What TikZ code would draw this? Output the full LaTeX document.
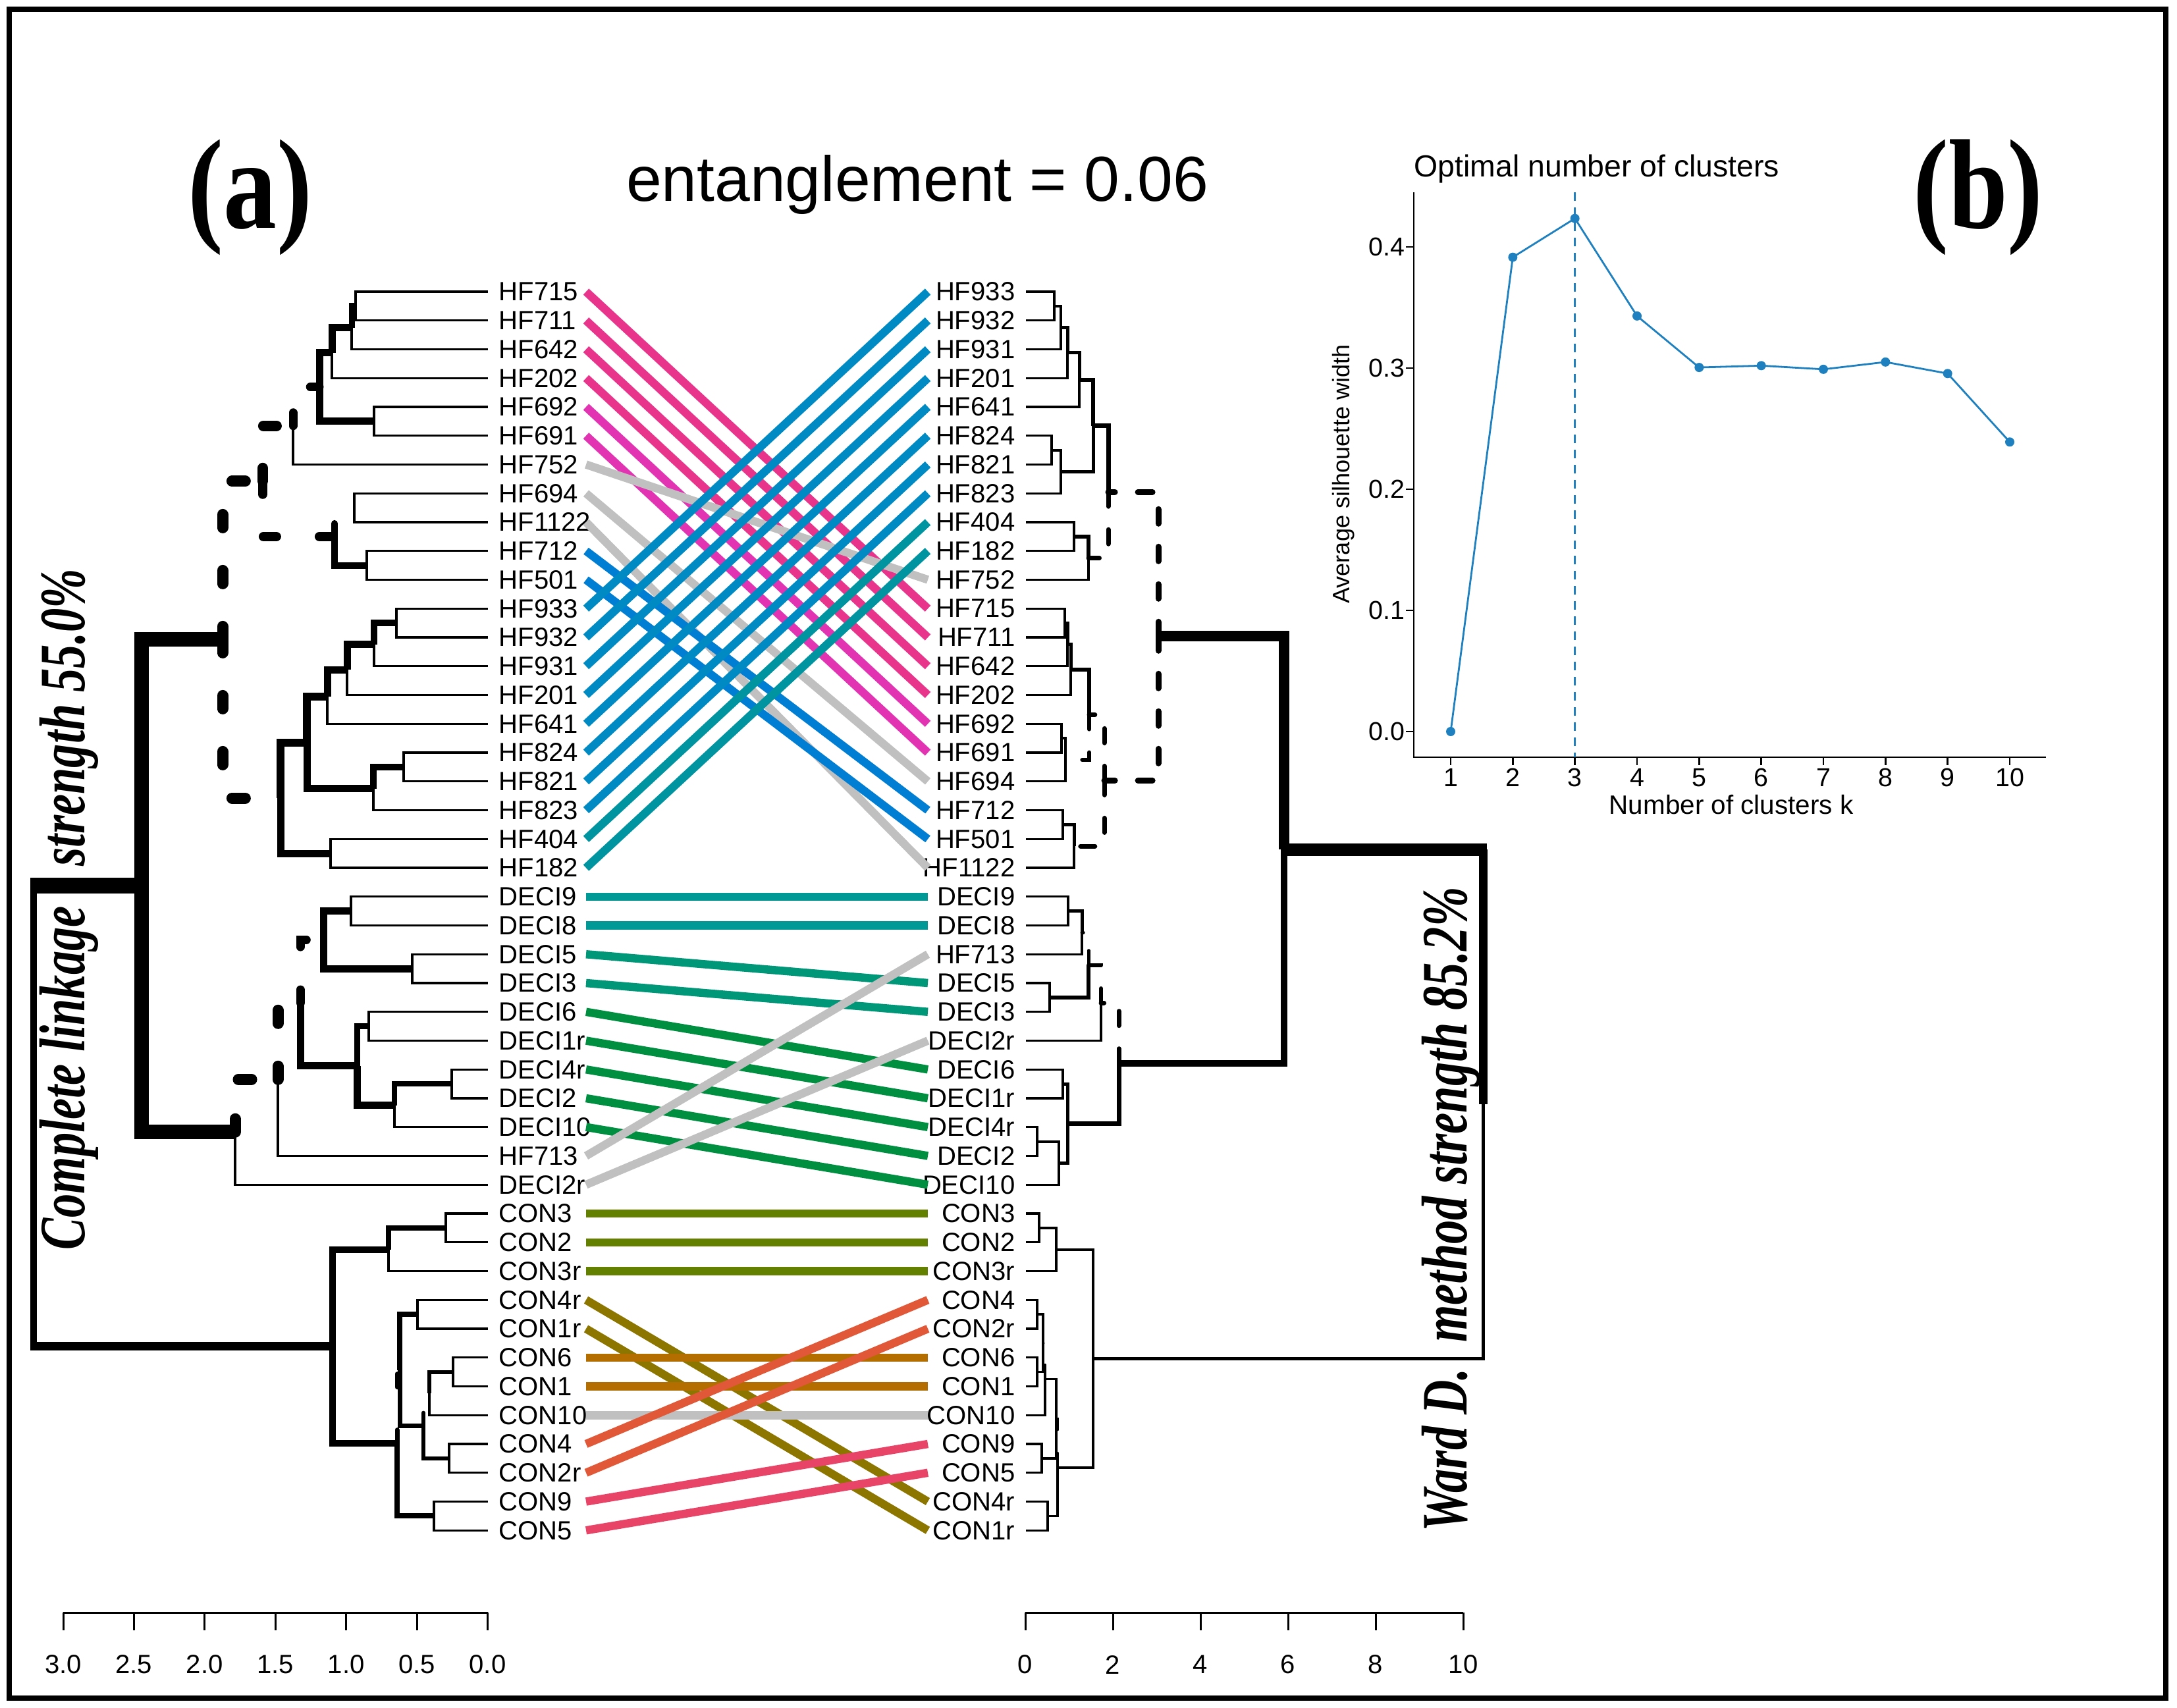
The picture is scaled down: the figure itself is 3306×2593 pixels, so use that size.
\documentclass[tikz,border=0pt]{standalone}
\usepackage{fontspec}
\setmainfont{Liberation Sans}
\newfontfamily\tnr{Liberation Serif}
\usepackage{graphicx}
\usetikzlibrary{calc}
\definecolor{pA}{RGB}{233,52,140}
\definecolor{pB}{RGB}{226,52,178}
\definecolor{gy}{RGB}{192,192,192}
\definecolor{bA}{RGB}{0,126,212}
\definecolor{bB}{RGB}{0,138,196}
\definecolor{tA}{RGB}{0,148,160}
\definecolor{tB}{RGB}{0,153,150}
\definecolor{tC}{RGB}{0,150,120}
\definecolor{gr}{RGB}{0,143,65}
\definecolor{oA}{RGB}{100,128,0}
\definecolor{oB}{RGB}{140,118,0}
\definecolor{orr}{RGB}{180,110,0}
\definecolor{ro}{RGB}{224,88,56}
\definecolor{pr}{RGB}{232,68,104}
\definecolor{bl}{RGB}{30,128,190}
\tikzset{
  lf/.style={line width=0.33mm},
  br/.style={line width=#1*0.1mm},
  bd/.style={line width=#1*0.1mm, line cap=round, dash pattern=on 2mm off 6.5mm},
  bdr/.style={line width=#1*0.1mm, line cap=round, dash pattern=on 2.2mm off 3.5mm},
  lab/.style={inner sep=0pt, font=\fontsize{11.4pt}{13pt}\selectfont},
  conn/.style={line width=1.25mm},
  tick/.style={line width=0.3mm},
}
\newcommand\tedge[3]{\draw[#1] (#2) |- (#3);}
\begin{document}
\begin{tikzpicture}[x=0.1mm,y=-0.1mm]
\useasboundingbox (0,0) rectangle (3306,2593);
\fill[white] (0,0) rectangle (3306,2593);
\draw[line width=0.85mm] (14,14) rectangle (3289,2579);

% titles
\node[anchor=base, inner sep=0, font=\fontsize{27.5pt}{30pt}\selectfont] (ent) at (1393,306) {entanglement = 0.06};
\node[inner sep=0] (pa) at (380,300) {\tnr\bfseries\fontsize{46pt}{50pt}\selectfont\scalebox{1}[1.2]{(a)}};
\node[inner sep=0] (pb) at (3004,300) {\tnr\bfseries\fontsize{46pt}{50pt}\selectfont\scalebox{1}[1.2]{(b)}};
\node[rotate=90, anchor=base, inner sep=0] (tl) at (128,1381) {\tnr\bfseries\itshape\fontsize{28pt}{30pt}\selectfont\scalebox{0.737}[1]{Complete linkage\hspace{5.8mm} strength 55.0\%}};
\node[rotate=90, anchor=base, inner sep=0] (tr) at (2227,1837) {\tnr\bfseries\itshape\fontsize{28pt}{30pt}\selectfont\scalebox{0.737}[1]{Ward D.\hspace{2.9mm} method strength 85.2\%}};

% bottom axes
\draw[tick] (96,2449) -- (740.5,2449);
\foreach \t [count=\k from 0] in {3.0,2.5,2.0,1.5,1.0,0.5,0.0}{
  \draw[tick] ({96+107.42*\k},2449) -- ({96+107.42*\k},2476);
  \node[lab] (axl-\k) at ({96+107.42*\k},2528) {\t};
}
\draw[tick] (1557,2449) -- (2222,2449);
\foreach \t [count=\k from 0] in {0,2,4,6,8,10}{
  \draw[tick] ({1557+133*\k},2449) -- ({1557+133*\k},2476);
  \node[lab] (axr-\k) at ({1557+133*\k},2528) {\t};
}

% chart (b)
\node[anchor=base west, inner sep=0, font=\fontsize{13.2pt}{15pt}\selectfont] (btitle) at (2147,269) {Optimal number of clusters};
\node[anchor=base, inner sep=0, font=\fontsize{11.5pt}{13pt}\selectfont] (bxt) at (2629,1236) {Number of clusters k};
\node[rotate=90, anchor=base, inner sep=0, font=\fontsize{10.3pt}{12pt}\selectfont] (byt) at (2049,720) {Average silhouette width};
\begin{scope}[shift={(2203,1111)}, x=9.433mm, y=184mm]
  \draw[line width=0.25mm] (-0.594,0.445) -- (-0.594,-0.0212) -- (9.583,-0.0212);
  \foreach \v/\t in {0/0.0,0.1/0.1,0.2/0.2,0.3/0.3,0.4/0.4}{
    \draw[line width=0.25mm] (-0.594,\v) -- (-0.721,\v);
    \node[anchor=east, inner sep=0, font=\fontsize{11.2pt}{13pt}\selectfont] (yl-\t) at (-0.732,\v) {\t};
  }
  \foreach \k in {1,...,10}{
    \draw[line width=0.25mm] ({\k-1},-0.0212) -- ({\k-1},-0.0277);
    \node[anchor=base, inner sep=0, font=\fontsize{11.2pt}{13pt}\selectfont] (xl-\k) at ({\k-1},-0.0451) {\k};
  }
  \draw[bl, line width=0.25mm, dash pattern=on 1.3mm off 1mm] (2,0.445) -- (2,-0.0212);
  \coordinate (p1) at (0,0);
  \coordinate (p2) at (1,0.3915);
  \coordinate (p3) at (2,0.4235);
  \coordinate (p4) at (3,0.343);
  \coordinate (p5) at (4,0.3005);
  \coordinate (p6) at (5,0.302);
  \coordinate (p7) at (6,0.299);
  \coordinate (p8) at (7,0.305);
  \coordinate (p9) at (8,0.2955);
  \coordinate (p10) at (9,0.239);
  \draw[bl, line width=0.28mm] (p1) -- (p2) -- (p3) -- (p4) -- (p5) -- (p6) -- (p7) -- (p8) -- (p9) -- (p10);
  \foreach \i in {1,...,10} \fill[bl] (p\i) circle (0.7mm);
\end{scope}

% tanglegram
\begin{scope}[shift={(0,443)}, y=-4.375mm]
\foreach \nm [count=\i from 0] in {HF715,HF711,HF642,HF202,HF692,HF691,HF752,HF694,HF1122,HF712,HF501,HF933,HF932,HF931,HF201,HF641,HF824,HF821,HF823,HF404,HF182,DECI9,DECI8,DECI5,DECI3,DECI6,DECI1r,DECI4r,DECI2,DECI10,HF713,DECI2r,CON3,CON2,CON3r,CON4r,CON1r,CON6,CON1,CON10,CON4,CON2r,CON9,CON5}{
  \coordinate (L-\nm) at (740.5,\i);
  \coordinate (la-\nm) at (890,\i);
  \node[lab, anchor=west] (lt-\nm) at (757,\i) {\nm};
}
\foreach \nm [count=\i from 0] in {HF933,HF932,HF931,HF201,HF641,HF824,HF821,HF823,HF404,HF182,HF752,HF715,HF711,HF642,HF202,HF692,HF691,HF694,HF712,HF501,HF1122,DECI9,DECI8,HF713,DECI5,DECI3,DECI2r,DECI6,DECI1r,DECI4r,DECI2,DECI10,CON3,CON2,CON3r,CON4,CON2r,CON6,CON1,CON10,CON9,CON5,CON4r,CON1r}{
  \coordinate (R-\nm) at (1558,\i);
  \coordinate (ra-\nm) at (1409,\i);
  \node[lab, anchor=east] (rt-\nm) at (1542,\i) {\nm};
}
% left tree nodes
\coordinate (lA) at (540,0.5);
\coordinate (lB) at (534,1.25);
\coordinate (lC) at (504,2.125);
\coordinate (lD) at (568,4.5);
\coordinate (lE) at (485,3.3125);
\coordinate (lF) at (445,4.65625);
\coordinate (lG) at (538,7.5);
\coordinate (lH) at (557,9.5);
\coordinate (lI) at (508,8.5);
\coordinate (lJ) at (399,6.578);
\coordinate (lK) at (602,11.5);
\coordinate (lL) at (568,12.25);
\coordinate (lM) at (527,13.125);
\coordinate (lN) at (497,14.0625);
\coordinate (lO) at (613,16.5);
\coordinate (lP) at (567,17.25);
\coordinate (lQ) at (466,15.656);
\coordinate (lR) at (502,19.5);
\coordinate (lS) at (426,17.578);
\coordinate (lT) at (338,12.078);
\coordinate (lX1) at (533,21.5);
\coordinate (lX2) at (626,23.5);
\coordinate (lX3) at (491,22.5);
\coordinate (lc61) at (560,25.5);
\coordinate (lc42) at (686,27.5);
\coordinate (lc4210) at (599,28.25);
\coordinate (lX5) at (542,26.875);
\coordinate (lX4) at (456,24.6875);
\coordinate (lX6) at (422,27.344);
\coordinate (lW) at (357,29.172);
\coordinate (lU) at (215,20.625);
\coordinate (lY1) at (677,32.5);
\coordinate (lY2) at (590,33.25);
\coordinate (lZ1) at (634,35.5);
\coordinate (lZc) at (688,37.5);
\coordinate (lZ2) at (652,38.25);
\coordinate (lZ42) at (682,40.5);
\coordinate (lZ3) at (643,39.375);
\coordinate (lZ4) at (607,37.4375);
\coordinate (lZ95) at (659,42.5);
\coordinate (lZ5) at (603,39.969);
\coordinate (lRC) at (505,36.609);
\coordinate (lV) at (51,28.617);
\coordinate (lVa) at (46,20.625);
\coordinate (lVb) at (46,36.609);
% left edges
\tedge{lf}{lA}{L-HF715} \tedge{lf}{lA}{L-HF711}
\tedge{br=9}{lB}{lA} \tedge{lf}{lB}{L-HF642}
\tedge{br=11}{lC}{lB} \tedge{lf}{lC}{L-HF202}
\tedge{lf}{lD}{L-HF692} \tedge{lf}{lD}{L-HF691}
\tedge{br=11}{lE}{lC} \tedge{br=11}{lE}{lD}
\tedge{bd=13}{lF}{lE} \tedge{lf}{lF}{L-HF752}
\tedge{lf}{lG}{L-HF694} \tedge{lf}{lG}{L-HF1122}
\tedge{lf}{lH}{L-HF712} \tedge{lf}{lH}{L-HF501}
\tedge{bd=10}{lI}{lG} \tedge{br=10}{lI}{lH}
\tedge{bd=16}{lJ}{lF} \tedge{bd=14}{lJ}{lI}
\tedge{lf}{lK}{L-HF933} \tedge{lf}{lK}{L-HF932}
\tedge{br=10}{lL}{lK} \tedge{lf}{lL}{L-HF931}
\tedge{br=11}{lM}{lL} \tedge{lf}{lM}{L-HF201}
\tedge{br=11}{lN}{lM} \tedge{lf}{lN}{L-HF641}
\tedge{lf}{lO}{L-HF824} \tedge{lf}{lO}{L-HF821}
\tedge{br=10}{lP}{lO} \tedge{lf}{lP}{L-HF823}
\tedge{br=12}{lQ}{lN} \tedge{br=11}{lQ}{lP}
\tedge{lf}{lR}{L-HF404} \tedge{lf}{lR}{L-HF182}
\tedge{br=12}{lS}{lQ} \tedge{br=11}{lS}{lR}
\tedge{bd=17}{lT}{lJ} \tedge{bd=17}{lT}{lS}
\tedge{lf}{lX1}{L-DECI9} \tedge{lf}{lX1}{L-DECI8}
\tedge{lf}{lX2}{L-DECI5} \tedge{lf}{lX2}{L-DECI3}
\tedge{br=11}{lX3}{lX1} \tedge{br=11}{lX3}{lX2}
\tedge{lf}{lc61}{L-DECI6} \tedge{lf}{lc61}{L-DECI1r}
\tedge{lf}{lc42}{L-DECI4r} \tedge{lf}{lc42}{L-DECI2}
\tedge{br=8}{lc4210}{lc42} \tedge{lf}{lc4210}{L-DECI10}
\tedge{br=9}{lX5}{lc61} \tedge{br=11}{lX5}{lc4210}
\tedge{bd=13}{lX4}{lX3} \tedge{br=11}{lX4}{lX5}
\tedge{bd=17}{lX6}{lX4} \tedge{lf}{lX6}{L-HF713}
\tedge{bd=17}{lW}{lX6} \tedge{lf}{lW}{L-DECI2r}
\tedge{br=22}{lU}{lT} \tedge{br=22}{lU}{lW}
\tedge{lf}{lY1}{L-CON3} \tedge{lf}{lY1}{L-CON2}
\tedge{br=8}{lY2}{lY1} \tedge{lf}{lY2}{L-CON3r}
\tedge{lf}{lZ1}{L-CON4r} \tedge{lf}{lZ1}{L-CON1r}
\tedge{lf}{lZc}{L-CON6} \tedge{lf}{lZc}{L-CON1}
\tedge{br=6}{lZ2}{lZc} \tedge{lf}{lZ2}{L-CON10}
\tedge{lf}{lZ42}{L-CON4} \tedge{lf}{lZ42}{L-CON2r}
\tedge{bd=6}{lZ3}{lZ2} \tedge{br=6}{lZ3}{lZ42}
\tedge{br=8}{lZ4}{lZ1} \tedge{br=7}{lZ4}{lZ3}
\tedge{lf}{lZ95}{L-CON9} \tedge{lf}{lZ95}{L-CON5}
\tedge{bd=7}{lZ5}{lZ4} \tedge{br=8}{lZ5}{lZ95}
\tedge{br=10}{lRC}{lY2} \tedge{br=10}{lRC}{lZ5}
\draw[br=10] (lV) -- (lV |- lU);
\draw[br=24] (lVa) -- (lU);
\draw[br=10] (lV) -- (lV |- lRC);
\draw[br=13] (lVb) -- (lRC);

% right tree nodes
\coordinate (rK) at (1601,0.5);
\coordinate (rL) at (1611,1.25);
\coordinate (rM) at (1621,2.125);
\coordinate (rN) at (1639,3.0625);
\coordinate (rO) at (1597,5.5);
\coordinate (rP) at (1611,6.25);
\coordinate (rQ) at (1660,4.656);
\coordinate (rR) at (1631,8.5);
\coordinate (rS) at (1653,9.25);
\coordinate (rA) at (1683,6.953);
\coordinate (rT) at (1617,11.5);
\coordinate (rU) at (1621,12.25);
\coordinate (rV) at (1626,13.125);
\coordinate (rW) at (1612,15.5);
\coordinate (rX) at (1618,16.25);
\coordinate (rB) at (1654,14.6875);
\coordinate (rY) at (1614,18.5);
\coordinate (rZ) at (1631,19.25);
\coordinate (rC) at (1677,16.969);
\coordinate (rD) at (1759,11.961);
\coordinate (rd98) at (1622,21.5);
\coordinate (rd713) at (1643,22.25);
\coordinate (rd53) at (1594,24.5);
\coordinate (rD1) at (1653,23.375);
\coordinate (rD2) at (1672,24.6875);
\coordinate (rd61) at (1614,27.5);
\coordinate (rd42) at (1575,29.5);
\coordinate (rd4210) at (1608,30.25);
\coordinate (rd6) at (1621,28.875);
\coordinate (rD3) at (1699,26.781);
\coordinate (rE) at (1950,19.371);
\coordinate (rc32) at (1578,32.5);
\coordinate (rc323) at (1604,33.25);
\coordinate (rc42) at (1575,35.5);
\coordinate (rc61) at (1575,37.5);
\coordinate (rc4261) at (1584,36.5);
\coordinate (rc10) at (1587,37.75);
\coordinate (rc95) at (1582,40.5);
\coordinate (rc1095) at (1604,39.125);
\coordinate (rc41) at (1591,42.5);
\coordinate (rc1095b) at (1606,40.8125);
\coordinate (rcR) at (1660,37.03);
\coordinate (rRR) at (2252,28.2);
\coordinate (rRRa) at (2258,19.371);
% right edges
\tedge{lf}{rK}{R-HF933} \tedge{lf}{rK}{R-HF932}
\tedge{br=4}{rL}{rK} \tedge{lf}{rL}{R-HF931}
\tedge{br=5}{rM}{rL} \tedge{lf}{rM}{R-HF201}
\tedge{br=5}{rN}{rM} \tedge{lf}{rN}{R-HF641}
\tedge{lf}{rO}{R-HF824} \tedge{lf}{rO}{R-HF821}
\tedge{br=4}{rP}{rO} \tedge{lf}{rP}{R-HF823}
\tedge{br=6}{rQ}{rN} \tedge{br=5}{rQ}{rP}
\tedge{lf}{rR}{R-HF404} \tedge{lf}{rR}{R-HF182}
\tedge{br=6}{rS}{rR} \tedge{lf}{rS}{R-HF752}
\tedge{br=7}{rA}{rQ} \tedge{bdr=7}{rA}{rS}
\tedge{lf}{rT}{R-HF715} \tedge{lf}{rT}{R-HF711}
\tedge{br=5}{rU}{rT} \tedge{lf}{rU}{R-HF642}
\tedge{br=5}{rV}{rU} \tedge{lf}{rV}{R-HF202}
\tedge{lf}{rW}{R-HF692} \tedge{lf}{rW}{R-HF691}
\tedge{br=4}{rX}{rW} \tedge{lf}{rX}{R-HF694}
\tedge{br=6}{rB}{rV} \tedge{bdr=6}{rB}{rX}
\tedge{lf}{rY}{R-HF712} \tedge{lf}{rY}{R-HF501}
\tedge{br=5}{rZ}{rY} \tedge{lf}{rZ}{R-HF1122}
\tedge{bdr=7}{rC}{rB} \tedge{bdr=7}{rC}{rZ}
\tedge{bdr=9}{rD}{rA} \tedge{bdr=9}{rD}{rC}
\tedge{lf}{rd98}{R-DECI9} \tedge{lf}{rd98}{R-DECI8}
\tedge{br=5}{rd713}{rd98} \tedge{lf}{rd713}{R-HF713}
\tedge{lf}{rd53}{R-DECI5} \tedge{lf}{rd53}{R-DECI3}
\tedge{bdr=5}{rD1}{rd713} \tedge{br=6}{rD1}{rd53}
\tedge{bdr=6}{rD2}{rD1} \tedge{lf}{rD2}{R-DECI2r}
\tedge{lf}{rd61}{R-DECI6} \tedge{lf}{rd61}{R-DECI1r}
\tedge{lf}{rd42}{R-DECI4r} \tedge{lf}{rd42}{R-DECI2}
\tedge{br=4}{rd4210}{rd42} \tedge{lf}{rd4210}{R-DECI10}
\tedge{br=5}{rd6}{rd61} \tedge{br=5}{rd6}{rd4210}
\tedge{bdr=7}{rD3}{rD2} \tedge{br=7}{rD3}{rd6}
\tedge{br=16}{rE}{rD} \tedge{br=10}{rE}{rD3}
\tedge{lf}{rc32}{R-CON3} \tedge{lf}{rc32}{R-CON2}
\tedge{br=3.5}{rc323}{rc32} \tedge{lf}{rc323}{R-CON3r}
\tedge{lf}{rc42}{R-CON4} \tedge{lf}{rc42}{R-CON2r}
\tedge{lf}{rc61}{R-CON6} \tedge{lf}{rc61}{R-CON1}
\tedge{br=3.5}{rc4261}{rc42} \tedge{br=3.5}{rc4261}{rc61}
\tedge{bdr=3.5}{rc10}{rc4261} \tedge{lf}{rc10}{R-CON10}
\tedge{lf}{rc95}{R-CON9} \tedge{lf}{rc95}{R-CON5}
\tedge{br=3.5}{rc1095}{rc10} \tedge{br=3.5}{rc1095}{rc95}
\tedge{lf}{rc41}{R-CON4r} \tedge{lf}{rc41}{R-CON1r}
\tedge{bdr=3.5}{rc1095b}{rc1095} \tedge{br=3.5}{rc1095b}{rc41}
\tedge{br=4}{rcR}{rc323} \tedge{br=4}{rcR}{rc1095b}
\draw[br=13] (rRR) -- (rRR |- rE);
\draw[br=19] (rRRa) -- (rE);
\tedge{br=5}{rRR}{rcR}

% connectors
\foreach \nm/\c in {HF715/pA,HF711/pA,HF642/pA,HF202/pA,HF692/pB,HF691/pB,HF752/gy,HF694/gy,HF1122/gy,HF712/bA,HF501/bA,HF933/bB,HF932/bB,HF931/bB,HF201/bB,HF641/bB,HF824/bB,HF821/bB,HF823/bB,HF404/tA,HF182/tA,DECI9/tB,DECI8/tB,DECI5/tC,DECI3/tC,DECI6/gr,DECI1r/gr,DECI4r/gr,DECI2/gr,DECI10/gr,HF713/gy,DECI2r/gy,CON3/oA,CON2/oA,CON3r/oA,CON4r/oB,CON1r/oB,CON6/orr,CON1/orr,CON10/gy,CON4/ro,CON2r/ro,CON9/pr,CON5/pr}{
  \draw[conn, draw=\c] (la-\nm) -- (ra-\nm);
}
\end{scope}
\end{tikzpicture}
\end{document}
